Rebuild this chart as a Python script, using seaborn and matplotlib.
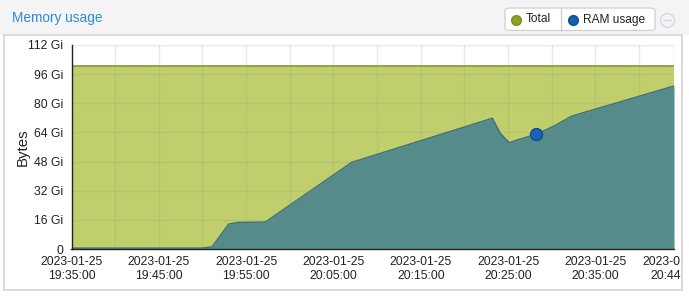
import matplotlib
matplotlib.use("Agg")
import matplotlib.pyplot as plt
import matplotlib.dates as mdates
from matplotlib.patches import Rectangle, FancyBboxPatch
from matplotlib.transforms import Bbox, TransformedBbox
import seaborn as sns
import pandas as pd
import numpy as np

# ---- data ----
ram_times = ["2023-01-25 19:35:00", "2023-01-25 19:50:00", "2023-01-25 19:51:06",
             "2023-01-25 19:53:00", "2023-01-25 19:54:06", "2023-01-25 19:57:12",
             "2023-01-25 20:07:06", "2023-01-25 20:23:12", "2023-01-25 20:24:06",
             "2023-01-25 20:25:06", "2023-01-25 20:28:12", "2023-01-25 20:30:06",
             "2023-01-25 20:32:18", "2023-01-25 20:44:00"]
ram_gi = [0.5, 0.5, 1.2, 13.7, 14.6, 14.8, 47.6, 71.8, 63.6, 58.4, 63.1, 67.1, 73.0, 89.5]
total_times = ["2023-01-25 19:35:00", "2023-01-25 20:44:00"]
total_gi = [100.2, 100.2]
highlight_index = 10

y_ticks = [0, 16, 32, 48, 64, 80, 96, 112]
y_tick_labels = ["0", "16 Gi", "32 Gi", "48 Gi", "64 Gi", "80 Gi", "96 Gi", "112 Gi"]
x_major = ["2023-01-25 19:35:00", "2023-01-25 19:45:00", "2023-01-25 19:55:00",
           "2023-01-25 20:05:00", "2023-01-25 20:15:00", "2023-01-25 20:25:00",
           "2023-01-25 20:35:00", "2023-01-25 20:44:00"]
x_minor = ["2023-01-25 19:40:00", "2023-01-25 19:50:00", "2023-01-25 20:00:00",
           "2023-01-25 20:10:00", "2023-01-25 20:20:00", "2023-01-25 20:30:00",
           "2023-01-25 20:40:00"]

ram = pd.DataFrame({"time": pd.to_datetime(ram_times), "value": ram_gi})
tot = pd.DataFrame({"time": pd.to_datetime(total_times), "value": total_gi})
xmaj = pd.to_datetime(x_major)
xmin_ = pd.to_datetime(x_minor)

sns.set_style("white")
plt.rcParams["font.family"] = ["Liberation Sans", "DejaVu Sans"]

W, H = 689, 296
fig = plt.figure(figsize=(W / 100, H / 100), dpi=100)

def fx(px):
    return px / W

def fy(py):
    return 1 - py / H

# header and panel frame
fig.patches.append(Rectangle((0, fy(35)), 1, 1 - fy(35), transform=fig.transFigure,
                             facecolor="#f4f4f4", edgecolor="none", zorder=-5))
fig.patches.append(Rectangle((fx(3.5), fy(290)), fx(682) - fx(3.5), fy(35) - fy(290),
                             transform=fig.transFigure, facecolor="white",
                             edgecolor="#d6d6d6", linewidth=1.2, zorder=-4))
fig.text(fx(12), fy(18), "Memory usage", color="#2d8ad8", fontsize=9.8,
         ha="left", va="center")

# legend box
fig.patches.append(FancyBboxPatch((fx(505), fy(30.5)), fx(655) - fx(505), fy(8) - fy(30.5),
                                  boxstyle="round,pad=0,rounding_size=0.008",
                                  transform=fig.transFigure, facecolor="white",
                                  edgecolor="#cfcfcf", linewidth=0.9, zorder=-3))
fig.lines.append(plt.Line2D([fx(561), fx(561)], [fy(8), fy(30.5)], transform=fig.transFigure,
                            color="#cfcfcf", linewidth=0.9))
fig.lines.append(plt.Line2D([fx(516)], [fy(19.5)], transform=fig.transFigure, marker="o",
                            markersize=7, color="#8aa21c", markeredgecolor="#7a9218"))
fig.text(fx(526), fy(19.5), "Total", fontsize=8.6, ha="left", va="center", color="#222222")
fig.lines.append(plt.Line2D([fx(573)], [fy(19.5)], transform=fig.transFigure, marker="o",
                            markersize=7, color="#1560b0", markeredgecolor="#0f4f95"))
fig.text(fx(583), fy(19.5), "RAM usage", fontsize=8.6, ha="left", va="center", color="#222222")
fig.lines.append(plt.Line2D([fx(666.5)], [fy(19.5)], transform=fig.transFigure, marker="o",
                            markersize=10, markerfacecolor="none", markeredgecolor="#cfdbe8",
                            markeredgewidth=1.0))
fig.lines.append(plt.Line2D([fx(662.5), fx(670.5)], [fy(19.5), fy(19.5)],
                            transform=fig.transFigure, color="#cfdbe8", linewidth=1.0))

ax = fig.add_axes([fx(71.5), fy(249), fx(674) - fx(71.5), fy(45) - fy(249)])
ax.set_facecolor("white")

ax.fill_between(tot["time"], 0, tot["value"], color="#c0cf6c", linewidth=0, zorder=1)
ax.fill_between(ram["time"], 0, ram["value"], color="#568b8b", linewidth=0, zorder=2)
sns.lineplot(data=tot, x="time", y="value", ax=ax, color="#8c9d3e", linewidth=1.3, zorder=3)
sns.lineplot(data=ram, x="time", y="value", ax=ax, color="#3c6f80", linewidth=1.0, zorder=4)
ax.plot(ram["time"].iloc[highlight_index], ram["value"].iloc[highlight_index], "o",
        markersize=8.5, color="#1565c0", markeredgecolor="#0e4a8a", markeredgewidth=1.0, zorder=6)

ax.set_xlim(xmaj[0], xmaj[-1])
ax.set_ylim(0, 112)
ax.set_yticks(y_ticks)
ax.set_yticklabels(y_tick_labels)
ax.set_xticks(xmaj)
ax.set_xticklabels([t.strftime("%Y-%m-%d\n%H:%M:%S") for t in xmaj], linespacing=1.2)
ax.set_xticks(xmin_, minor=True)

ax.grid(True, which="both", color="#8a8a8a", alpha=0.18, linewidth=1.0, zorder=5)
ax.set_axisbelow(False)

for s in ["top", "right"]:
    ax.spines[s].set_visible(False)
for s in ["left", "bottom"]:
    ax.spines[s].set_color("#222222")
    ax.spines[s].set_linewidth(1.0)
    ax.spines[s].set_zorder(7)

ax.tick_params(axis="both", which="both", direction="out", length=4, width=1.0,
               color="#333333", labelsize=8.8, labelcolor="#222222", pad=2)
ax.tick_params(axis="x", which="major", pad=1)
ax.set_xlabel("")
ax.set_ylabel("Bytes", fontsize=10.8, color="#222222")
ax.yaxis.set_label_coords(-0.07, 0.5)

# clip tick labels at the panel's right edge
clip = TransformedBbox(Bbox([[0, 0], [fx(681), 1]]), fig.transFigure)
for lab in ax.get_xticklabels():
    lab.set_clip_on(True)
    lab.set_clip_box(clip)

fig.savefig("out.png", dpi=100)
